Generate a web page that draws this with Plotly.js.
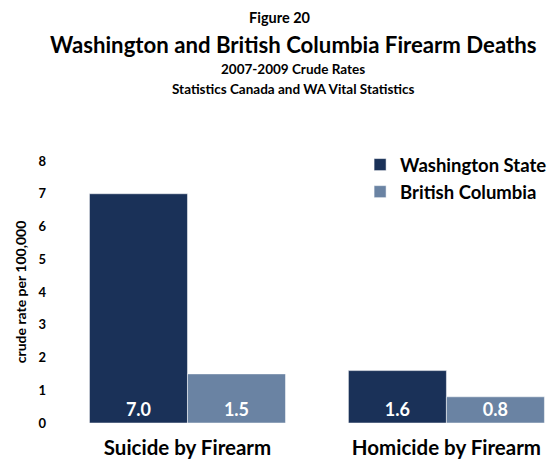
<!DOCTYPE html>
<html><head><meta charset="utf-8">
<script src="https://cdn.plot.ly/plotly-3.0.1.min.js"></script>
<style>body{margin:0;background:#fff}#c{width:550px;height:459px}</style>
</head><body><div id="c"></div>
<script>
const categories = ["Suicide by Firearm", "Homicide by Firearm"];
const seriesNames = ["Washington State", "British Columbia"];
const waValues = [7.0, 1.6];
const bcValues = [1.5, 0.8];
const yTicks = [0,1,2,3,4,5,6,7,8];
const titleLines = ["Figure 20", "Washington and British Columbia Firearm Deaths", "2007-2009 Crude Rates", "Statistics Canada and WA Vital Statistics"];

const F = "Lato, 'Open Sans', sans-serif";
const mk = (name, vals, color) => ({
  type: 'bar', name: name, x: categories, y: vals,
  marker: {color: color, line: {color: '#ffffff', width: 0.5}},
  text: vals.map(v => v.toFixed(1)), textposition: 'inside', insidetextanchor: 'start',
  textfont: {family: F, size: 18, color: '#ffffff', weight: 'bold'},
  constraintext: 'none', hoverinfo: 'skip'
});
const data = [mk(seriesNames[0], waValues, '#1a3158'), mk(seriesNames[1], bcValues, '#6a83a3')];

const ys = [17, 44, 69, 89];
const sizes = [14.5, 22.2, 13.5, 13.5];
const xs = [280, 293, 293, 293];
const layout = {
  width: 550, height: 459,
  margin: {l: 58, r: 0, t: 161, b: 36, autoexpand: false},
  paper_bgcolor: '#fff', plot_bgcolor: '#fff',
  barmode: 'group', bargap: 0.243, bargroupgap: 0,
  font: {family: F, color: '#000'},
  xaxis: {range: [-0.5, 1.4], automargin: false, showgrid: false, showline: false, zeroline: false, ticks: '',
    tickfont: {family: F, size: 20.5, weight: 'bold'}, ticklabelstandoff: 10},
  yaxis: {range: [0, 8], automargin: false, tickvals: yTicks, showgrid: false, showline: false, zeroline: false, ticks: '',
    tickfont: {family: F, size: 13, weight: 'bold'}, ticklabelstandoff: 11,
    title: {text: 'crude rate per 100,000', font: {family: F, size: 14, weight: 'bold'}, standoff: 8}},
  showlegend: true,
  legend: {x: 0.614, y: 1.057, xanchor: 'left', yanchor: 'top', font: {family: F, size: 18.5, weight: 'bold'},
    tracegroupgap: 0, itemwidth: 30, bgcolor: 'rgba(0,0,0,0)'},
  annotations: titleLines.map((t, i) => ({
    text: t, showarrow: false, xref: 'paper', yref: 'paper',
    x: (xs[i] - 58) / 492, xanchor: 'center', yanchor: 'middle',
    y: (423 - ys[i]) / 262,
    font: {family: F, size: sizes[i], weight: 'bold', color: '#000'}
  }))
};
Plotly.newPlot('c', data, layout, {displayModeBar: false, staticPlot: true});
</script></body></html>
